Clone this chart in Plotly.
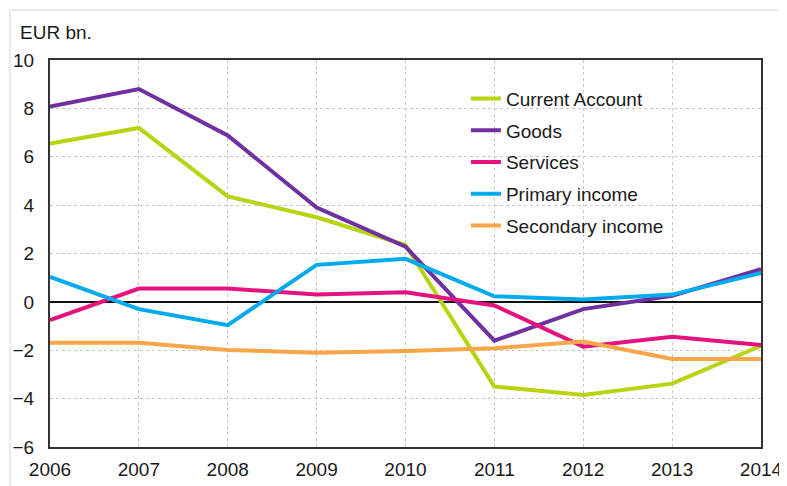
import plotly.graph_objects as go

years = [2006, 2007, 2008, 2009, 2010, 2011, 2012, 2013, 2014]

current_account = [6.55, 7.19, 4.36, 3.5, 2.35, -3.5, -3.85, -3.38, -1.82]
goods = [8.08, 8.8, 6.88, 3.9, 2.28, -1.6, -0.3, 0.25, 1.35]
services = [-0.75, 0.55, 0.55, 0.3, 0.4, -0.15, -1.85, -1.44, -1.78]
primary_income = [1.03, -0.3, -0.96, 1.53, 1.78, 0.23, 0.1, 0.3, 1.2]
secondary_income = [-1.69, -1.69, -1.99, -2.1, -2.03, -1.92, -1.64, -2.36, -2.36]

series = [
    ("Current Account", current_account, "#b8d30f"),
    ("Goods", goods, "#7030a0"),
    ("Services", services, "#e5137d"),
    ("Primary income", primary_income, "#00aaee"),
    ("Secondary income", secondary_income, "#f9a54a"),
]

FONT = "Liberation Sans, Arial, sans-serif"

fig = go.Figure()
for name, vals, color in series:
    fig.add_trace(
        go.Scatter(
            x=years,
            y=vals,
            name=name,
            mode="lines",
            line={"color": color, "width": 4},
            legendgroup=name,
        )
    )

# outer light frame and white legend panel
fig.add_shape(type="rect", xref="paper", yref="paper",
              x0=-0.0563, x1=1.2, y0=-0.3, y1=1.129,
              line={"color": "#d9d9d9", "width": 1}, layer="below")
fig.add_shape(type="rect", xref="paper", yref="paper",
              x0=0.5105, x1=0.931, y0=0.532, y1=0.933,
              fillcolor="white", line={"width": 0}, layer="between")

fig.add_annotation(text="EUR bn.", xref="paper", yref="paper",
                   x=-0.045, y=1.07, xanchor="left", yanchor="middle",
                   showarrow=False, font={"size": 19, "color": "#1a1a1a", "family": FONT})

# page has an 8px body margin, so the figure is sized to fit the window
fig.update_layout(
    width=779,
    height=478,
    margin={"l": 42, "r": 26, "t": 52, "b": 39, "autoexpand": False},
    paper_bgcolor="white",
    plot_bgcolor="white",
    font={"family": FONT, "size": 19, "color": "#1a1a1a"},
    showlegend=True,
    legend={
        "x": 0.585,
        "y": 0.949,
        "xanchor": "left",
        "yanchor": "top",
        "bgcolor": "rgba(0,0,0,0)",
        "tracegroupgap": 4,
        "font": {"size": 19},
    },
)

fig.update_xaxes(
    range=[2006, 2014],
    tickvals=years,
    showgrid=True,
    gridcolor="#c8c8c8",
    griddash="dot",
    gridwidth=1,
    showline=True,
    linecolor="#333333",
    linewidth=2,
    mirror=True,
    zeroline=False,
    automargin=False,
    ticklabelstandoff=4,
)
fig.update_yaxes(
    range=[-6, 10],
    tickvals=[-6, -4, -2, 0, 2, 4, 6, 8, 10],
    showgrid=True,
    gridcolor="#c8c8c8",
    griddash="dot",
    gridwidth=1,
    showline=True,
    linecolor="#333333",
    linewidth=2,
    mirror=True,
    zeroline=True,
    zerolinecolor="#111111",
    zerolinewidth=1.5,
    automargin=False,
    ticklabelstandoff=10,
)

fig.write_html("out.html")
